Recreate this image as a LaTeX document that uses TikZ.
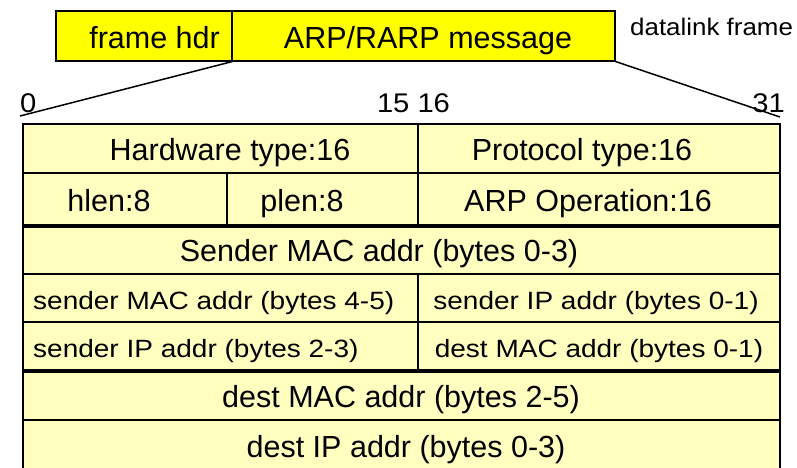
\documentclass[tikz,border=0pt]{standalone}
\usepackage{fontspec}
\setmainfont{Liberation Sans}
\newfontfamily\widefont[FakeStretch=1.12]{Liberation Sans}
\newfontfamily\midfont[FakeStretch=1.08]{Liberation Sans}
\definecolor{tabfill}{HTML}{FFFFC0}
\definecolor{hdrfill}{HTML}{FFFF00}
\begin{document}
\begin{tikzpicture}[x=1pt,y=-1pt,
  bigtxt/.style={font=\fontsize{30.5}{36}\selectfont, inner sep=0pt, anchor=base},
  smalltxt/.style={font=\widefont\fontsize{25}{30}\selectfont, inner sep=0pt, anchor=base},
  midtxt/.style={font=\midfont\fontsize{24}{29}\selectfont, inner sep=0pt, anchor=base},
  numtxt/.style={font=\midfont\fontsize{27}{32}\selectfont, inner sep=0pt, anchor=base},
  topbox/.style={draw, fill=hdrfill, line width=1.5pt, inner sep=0pt, anchor=north west},
  cell/.style={draw, fill=tabfill, line width=2pt, inner sep=0pt, anchor=north west},
  fan/.style={line width=1.5pt},
  sep/.style={line width=3.5pt}]
\useasboundingbox (0,0) rectangle (797,467);
% datalink frame
\node[topbox, minimum width=176, minimum height=50] (hdr) at (55,10) {};
\node[topbox, minimum width=383, minimum height=50] (msg) at (231,10) {};
\node[bigtxt, anchor=base east] (hdrt) at (220,48) {frame hdr};
\node[bigtxt] (msgt) at (428,48) {ARP/RARP message};
\node[midtxt, anchor=base west] (dl) at (630,35.5) {datalink frame};
% bit numbers
\node[numtxt, anchor=base west] (b0) at (20,112) {0};
\node[numtxt] (b1516) at (413.5,112) {15 16};
\node[numtxt, anchor=base east] (b31) at (785,112) {31};
% table cells
\node[cell, minimum width=395, minimum height=49] (hw) at (22,123) {};
\node[cell, minimum width=362, minimum height=49] (pt) at (417,123) {};
\node[cell, minimum width=204, minimum height=52] (hl) at (22,172) {};
\node[cell, minimum width=191, minimum height=52] (pl) at (226,172) {};
\node[cell, minimum width=362, minimum height=52] (op) at (417,172) {};
\node[cell, minimum width=757, minimum height=49] (smac) at (22,224) {};
\node[cell, minimum width=395, minimum height=48] (smac2) at (22,273) {};
\node[cell, minimum width=362, minimum height=48] (sip) at (417,273) {};
\node[cell, minimum width=395, minimum height=48] (sip2) at (22,321) {};
\node[cell, minimum width=362, minimum height=48] (dmac) at (417,321) {};
\node[cell, minimum width=757, minimum height=50] (dmac2) at (22,369) {};
\node[cell, minimum width=757, minimum height=52] (dip) at (22,419) {};
% heavier separators
\draw[sep] (hl.south west) -- (op.south east);
\draw[sep] (sip2.south west) -- (dmac.south east);
% cell labels
\node[bigtxt] (hwt) at (230,160.5) {Hardware type:16};
\node[bigtxt] (ptt) at (582,160.5) {Protocol type:16};
\node[bigtxt] (hlt) at (109,211) {hlen:8};
\node[bigtxt] (plt) at (302,211) {plen:8};
\node[bigtxt] (opt) at (588,211) {ARP Operation:16};
\node[bigtxt] (smact) at (379,261.5) {Sender MAC addr (bytes 0-3)};
\node[smalltxt, anchor=base west] (smac2t) at (33,309) {sender MAC addr (bytes 4-5)};
\node[smalltxt] (sipt) at (596,309) {sender IP addr (bytes 0-1)};
\node[smalltxt, anchor=base west] (sip2t) at (33,357) {sender IP addr (bytes 2-3)};
\node[smalltxt] (dmact) at (599,357) {dest MAC addr (bytes 0-1)};
\node[bigtxt] (dmac2t) at (401,407.5) {dest MAC addr (bytes 2-5)};
\node[bigtxt] (dipt) at (406,457) {dest IP addr (bytes 0-3)};
% fan-out lines
\coordinate (fanL) at (20,116);
\coordinate (fanR) at (780,117);
\draw[fan] (hdr.south east) -- (fanL);
\draw[fan] (msg.south east) -- (fanR);
\end{tikzpicture}
\end{document}
